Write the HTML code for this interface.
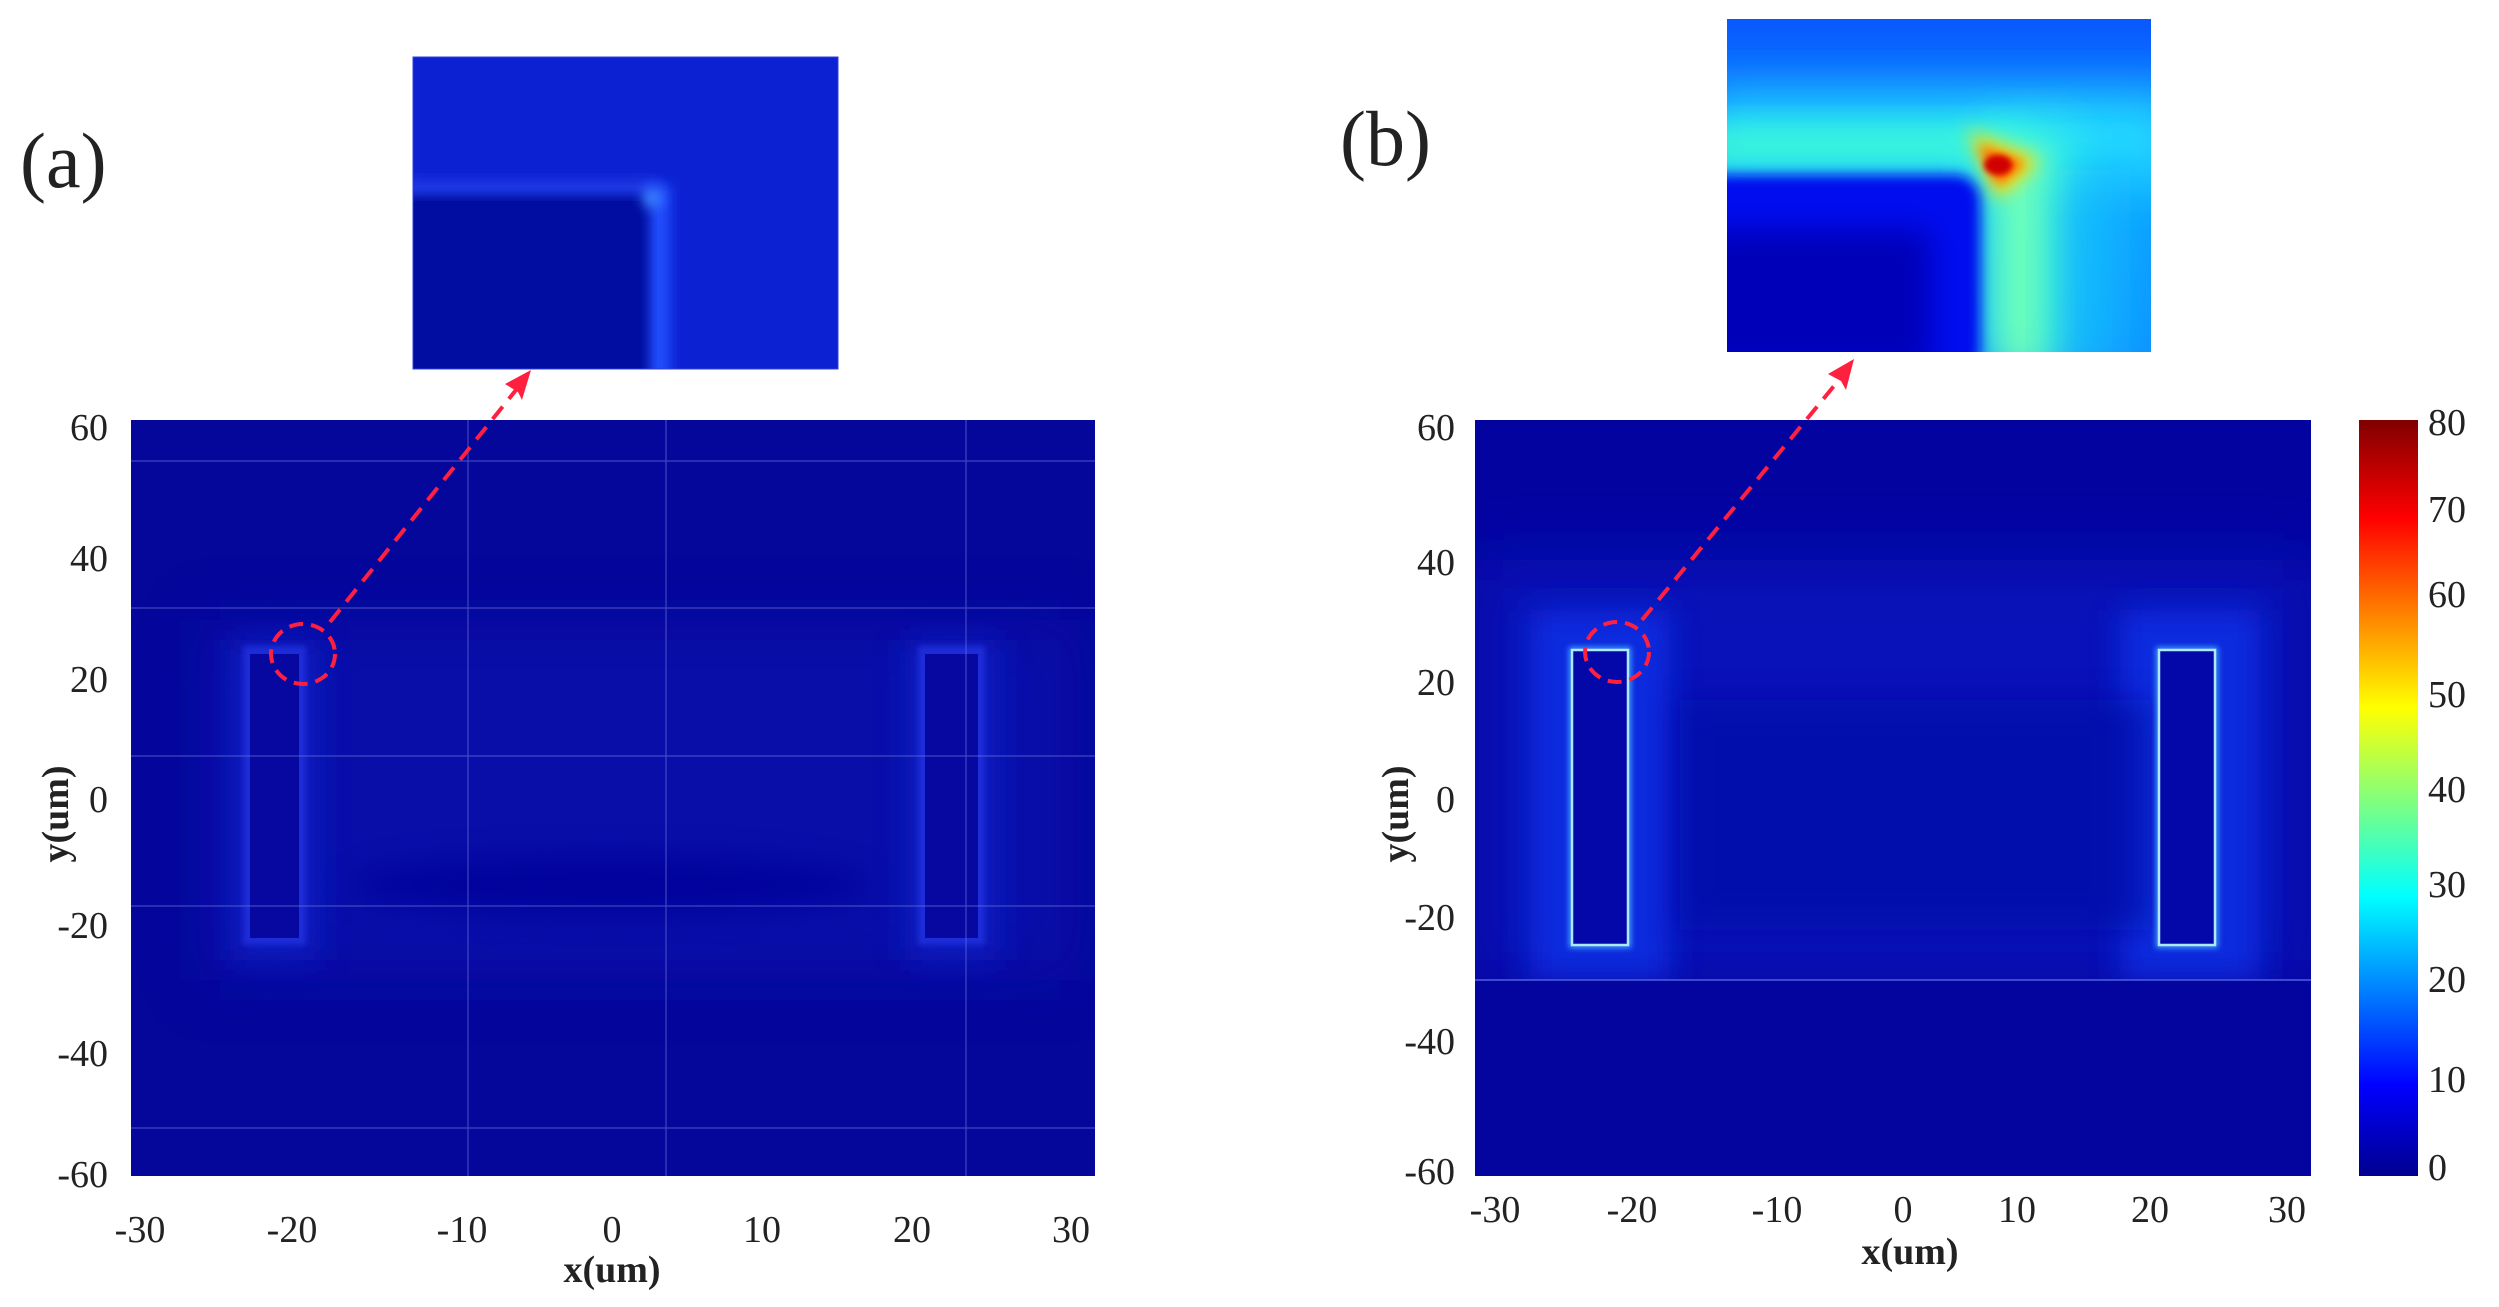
<!DOCTYPE html>
<html><head><meta charset="utf-8"><style>
html,body{margin:0;padding:0;background:#fff;}
svg{display:block;}
text{font-family:"Liberation Serif",serif;fill:#222;}
</style></head><body>
<svg width="2499" height="1307" viewBox="0 0 2499 1307" xmlns="http://www.w3.org/2000/svg">
<defs>
<filter id="b6" x="-50%" y="-50%" width="200%" height="200%"><feGaussianBlur stdDeviation="6"/></filter>
<filter id="b15" x="-50%" y="-50%" width="200%" height="200%"><feGaussianBlur stdDeviation="15"/></filter>
<filter id="b25" x="-50%" y="-50%" width="200%" height="200%"><feGaussianBlur stdDeviation="25"/></filter>
<filter id="b30" x="-50%" y="-50%" width="200%" height="200%"><feGaussianBlur stdDeviation="30"/></filter>
<filter id="b3" x="-50%" y="-50%" width="200%" height="200%"><feGaussianBlur stdDeviation="3"/></filter>
<filter id="b9" x="-50%" y="-50%" width="200%" height="200%"><feGaussianBlur stdDeviation="9"/></filter>
<linearGradient id="jet" x1="0" y1="1" x2="0" y2="0">
<stop offset="0" stop-color="#00008f"/><stop offset="0.12" stop-color="#0000ff"/>
<stop offset="0.37" stop-color="#00ffff"/><stop offset="0.62" stop-color="#ffff00"/>
<stop offset="0.87" stop-color="#ff0000"/><stop offset="1" stop-color="#800000"/>
</linearGradient>
<linearGradient id="ibg" x1="0" y1="0" x2="0" y2="1">
<stop offset="0" stop-color="#0858ff"/><stop offset="0.5" stop-color="#10a0ff"/><stop offset="1" stop-color="#1090ff"/>
</linearGradient>
<clipPath id="ca"><rect x="131" y="420" width="964" height="756"/></clipPath>
<clipPath id="cb"><rect x="1475" y="420" width="836" height="756"/></clipPath>
<clipPath id="ia"><rect x="413" y="57" width="425" height="312"/></clipPath>
<clipPath id="ib"><rect x="1727" y="19" width="424" height="333"/></clipPath>
</defs>

<!-- Panel (a) -->
<text x="20" y="187" font-size="78">(a)</text>
<g clip-path="url(#ca)">
<rect x="131" y="420" width="964" height="756" fill="#05069a"/>
<rect x="200" y="620" width="880" height="360" fill="#0a14b8" opacity="0.5" filter="url(#b30)"/>
<rect x="230" y="640" width="90" height="320" fill="#1020c8" opacity="0.7" filter="url(#b15)"/>
<rect x="905" y="640" width="95" height="320" fill="#1020c8" opacity="0.7" filter="url(#b15)"/>
<rect x="243" y="646" width="63" height="299" fill="#2030e0" opacity="0.8" filter="url(#b3)"/>
<rect x="918" y="646" width="67" height="299" fill="#2030e0" opacity="0.8" filter="url(#b3)"/>
<rect x="250" y="654" width="49" height="284" fill="#06089f"/>
<rect x="925" y="654" width="53" height="284" fill="#06089f"/>
<ellipse cx="610" cy="885" rx="260" ry="30" fill="#05069a" opacity="0.8" filter="url(#b15)"/>
<g stroke="#6a70d8" stroke-width="1.2" opacity="0.6">
<line x1="131" y1="461" x2="1095" y2="461"/><line x1="131" y1="608" x2="1095" y2="608"/>
<line x1="131" y1="756" x2="1095" y2="756"/><line x1="131" y1="906" x2="1095" y2="906"/>
<line x1="131" y1="1128" x2="1095" y2="1128"/>
<line x1="468" y1="420" x2="468" y2="1176"/><line x1="666" y1="420" x2="666" y2="1176"/><line x1="966" y1="420" x2="966" y2="1176"/>
</g>
</g>
<g font-size="38" text-anchor="end">
<text x="108" y="440">60</text><text x="108" y="571">40</text><text x="108" y="692">20</text>
<text x="108" y="812">0</text><text x="108" y="938">-20</text><text x="108" y="1066">-40</text><text x="108" y="1187">-60</text>
</g>
<g font-size="38" text-anchor="middle">
<text x="140" y="1242">-30</text><text x="292" y="1242">-20</text><text x="462" y="1242">-10</text>
<text x="612" y="1242">0</text><text x="762" y="1242">10</text><text x="912" y="1242">20</text><text x="1071" y="1242">30</text>
<text x="612" y="1282" font-weight="bold">x(um)</text>
</g>
<text transform="translate(68,814) rotate(-90)" font-size="38" font-weight="bold" text-anchor="middle">y(um)</text>

<!-- inset a -->
<g clip-path="url(#ia)">
<rect x="413" y="57" width="425" height="312" fill="#0a1ac8"/>
<rect x="413" y="57" width="425" height="312" fill="#1030e0" opacity="0.4"/>
<rect x="400" y="185" width="260" height="200" fill="#0508a0" rx="20" filter="url(#b6)"/>
<rect x="650" y="185" width="20" height="200" fill="#2050ff" filter="url(#b6)"/>
<rect x="400" y="180" width="260" height="14" fill="#2040f0" filter="url(#b6)"/>
<circle cx="652" cy="198" r="10" fill="#3a80ff" filter="url(#b6)"/>
</g>
<rect x="413" y="57" width="425" height="312" fill="none" stroke="#3040e0" stroke-width="1"/>

<!-- arrow a -->
<ellipse cx="303" cy="654" rx="32" ry="30" fill="none" stroke="#ff2040" stroke-width="4" stroke-dasharray="14,8"/>
<line x1="330" y1="622" x2="520" y2="385" stroke="#ff2040" stroke-width="4" stroke-dasharray="16,10"/>
<polygon points="531,370 505,384 518,392 522,400" fill="#ff2040"/>

<!-- Panel (b) -->
<text x="1340" y="165" font-size="78">(b)</text>
<g clip-path="url(#cb)">
<rect x="1475" y="420" width="836" height="756" fill="#0304a0"/>
<rect x="1475" y="560" width="836" height="420" fill="#0a1ac8" opacity="0.6" filter="url(#b30)"/>
<rect x="1530" y="610" width="140" height="370" fill="#1030e8" opacity="0.8" filter="url(#b15)"/>
<rect x="2120" y="610" width="140" height="370" fill="#1030e8" opacity="0.8" filter="url(#b15)"/>
<rect x="1680" y="700" width="470" height="230" fill="#0608a8" opacity="0.7" filter="url(#b15)"/>
<rect x="1475" y="980" width="836" height="196" fill="#04049e"/>
<line x1="1475" y1="980" x2="2311" y2="980" stroke="#5060e0" stroke-width="1.5"/>
<rect x="1572" y="650" width="56" height="295" fill="none" stroke="#40a0ff" stroke-width="6" filter="url(#b3)"/>
<rect x="2159" y="650" width="56" height="295" fill="none" stroke="#40a0ff" stroke-width="6" filter="url(#b3)"/>
<rect x="1572" y="650" width="56" height="295" fill="#0508a8" stroke="#b0e8ff" stroke-width="2.5"/>
<rect x="2159" y="650" width="56" height="295" fill="#0508a8" stroke="#b0e8ff" stroke-width="2.5"/>
</g>
<g font-size="38" text-anchor="end">
<text x="1455" y="440">60</text><text x="1455" y="575">40</text><text x="1455" y="695">20</text>
<text x="1455" y="812">0</text><text x="1455" y="930">-20</text><text x="1455" y="1054">-40</text><text x="1455" y="1184">-60</text>
</g>
<g font-size="38" text-anchor="middle">
<text x="1495" y="1222">-30</text><text x="1632" y="1222">-20</text><text x="1777" y="1222">-10</text>
<text x="1903" y="1222">0</text><text x="2017" y="1222">10</text><text x="2150" y="1222">20</text><text x="2287" y="1222">30</text>
<text x="1910" y="1264" font-weight="bold">x(um)</text>
</g>
<text transform="translate(1408,814) rotate(-90)" font-size="38" font-weight="bold" text-anchor="middle">y(um)</text>

<!-- colorbar -->
<rect x="2359" y="420" width="59" height="756" fill="url(#jet)"/>
<g font-size="38" text-anchor="start">
<text x="2428" y="435">80</text><text x="2428" y="522">70</text><text x="2428" y="607">60</text>
<text x="2428" y="707">50</text><text x="2428" y="802">40</text><text x="2428" y="897">30</text>
<text x="2428" y="992">20</text><text x="2428" y="1092">10</text><text x="2428" y="1180">0</text>
</g>

<!-- inset b -->
<g clip-path="url(#ib)">
<rect x="1727" y="19" width="424" height="333" fill="url(#ibg)"/>
<rect x="1700" y="95" width="480" height="90" fill="#20d8ff" filter="url(#b25)"/>
<rect x="1700" y="125" width="320" height="40" fill="#40ffd0" opacity="0.8" filter="url(#b15)"/>
<rect x="1985" y="130" width="85" height="240" fill="#40ffd8" filter="url(#b25)"/>
<rect x="2000" y="150" width="50" height="220" fill="#80ffb0" opacity="0.7" filter="url(#b15)"/>
<rect x="2060" y="170" width="70" height="200" fill="#10c0ff" opacity="0.7" filter="url(#b25)"/>
<rect x="1700" y="175" width="280" height="200" rx="25" fill="#0010ee" filter="url(#b6)"/>
<rect x="1700" y="230" width="230" height="140" fill="#0006b8" filter="url(#b15)"/>
<polygon points="1968,130 2040,160 1998,200" fill="#ffe000" filter="url(#b9)"/>
<polygon points="1978,145 2025,163 1998,185" fill="#ff5000" filter="url(#b6)"/>
<ellipse cx="1998" cy="165" rx="14" ry="10" fill="#d00000" filter="url(#b3)"/>
</g>

<!-- arrow b -->
<ellipse cx="1617" cy="652" rx="32" ry="30" fill="none" stroke="#ff2040" stroke-width="4" stroke-dasharray="14,8"/>
<line x1="1642" y1="620" x2="1843" y2="375" stroke="#ff2040" stroke-width="4" stroke-dasharray="16,10"/>
<polygon points="1854,359 1828,374 1841,381 1846,390" fill="#ff2040"/>
</svg>
</body></html>
